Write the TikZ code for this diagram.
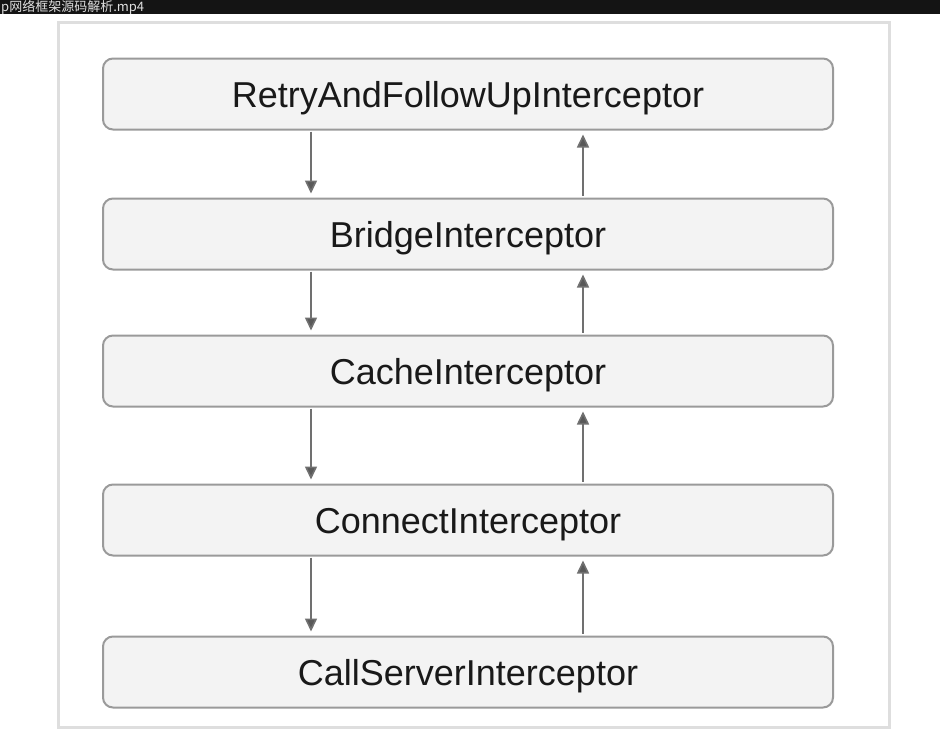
\documentclass[tikz,border=0pt]{standalone}
\usepackage{fontspec}
\setmainfont{Liberation Sans}
\newfontfamily\cjkfont{Noto Sans CJK SC}
\usetikzlibrary{arrows.meta}
\definecolor{caixaborda}{HTML}{9A9A9A}
\definecolor{caixafundo}{HTML}{F3F3F3}
\definecolor{moldura}{HTML}{DEDEDE}
\definecolor{setacor}{HTML}{707070}
\definecolor{barra}{HTML}{141414}
\tikzset{
    caixa/.style={draw=caixaborda, fill=caixafundo, line width=2pt, rounded corners=10pt},
    seta/.style={-{Triangle[width=12pt, length=13pt, fill=black!65]}, draw=setacor, line width=1.6pt}
}

\begin{document}
\begin{tikzpicture}[x=1pt, y=-1pt]
    % Estilos
    \tikzset{
        camada/.style={caixa, minimum width=730pt, minimum height=71pt, text height=26pt, text depth=0pt,
            font=\fontsize{36}{40}\selectfont, text=black!90}
    }

    % Area
    \useasboundingbox (0,0) rectangle (940,736);
    \fill[white] (0,0) rectangle (940,736);

    % Barra do video
    \fill[barra] (0,0) rectangle (940,14);
    \node[anchor=base west, inner sep=0pt, text=white!88!black, font=\cjkfont\fontsize{13}{14}\selectfont] (titulo) at (1,11.2) {p网络框架源码解析.mp4};

    % Moldura
    \draw[moldura, line width=3pt] (58,22) rectangle (889,727);

    % Interceptadores
    \node[camada] (retry) at (468,94) {RetryAndFollowUpInterceptor};
    \node[camada] (bridge) at (468,234) {BridgeInterceptor};
    \node[camada] (cache) at (468,371) {CacheInterceptor};
    \node[camada] (connect) at (468,520) {ConnectInterceptor};
    \node[camada] (callserver) at (468,672) {CallServerInterceptor};

    % Setas (ida e volta)
    \coordinate (desce) at (311,0);
    \coordinate (sobe) at (583,0);
    \foreach \a/\b in {retry/bridge, bridge/cache, cache/connect, connect/callserver}{
        \draw[seta, shorten <=1pt, shorten >=4pt] (\a.south -| desce) -- (\b.north -| desce);
        \draw[seta, shorten <=2pt, shorten >=4pt] (\b.north -| sobe) -- (\a.south -| sobe);
    }
\end{tikzpicture}
\end{document}
